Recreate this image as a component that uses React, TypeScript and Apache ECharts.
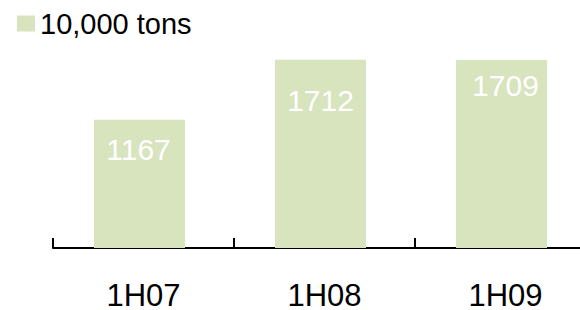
import React, { useEffect, useRef } from "react";
import * as echarts from "echarts";

const categories = ["1H07", "1H08", "1H09"];
const values = [1167, 1712, 1709];
const seriesName = "10,000 tons";
const labelOffsets: [number, number][] = [
  [-1, 15],
  [0, 26],
  [4, 10],
];

export default function App() {
  const ref = useRef<HTMLDivElement>(null);
  useEffect(() => {
    if (!ref.current) return;
    const chart = echarts.init(ref.current, null, { renderer: "svg" });
    const font = "'Liberation Sans', Arial, sans-serif";
    chart.setOption({
      animation: false,
      legend: {
        data: [seriesName],
        left: 17,
        top: 9,
        padding: 0,
        itemWidth: 18,
        itemHeight: 16,
        icon: "rect",
        textStyle: { fontSize: 29, color: "#000", fontFamily: font },
      },
      grid: {
        left: 53,
        width: 543,
        top: 28,
        bottom: 62,
        containLabel: false,
        outerBoundsMode: "none",
      },
      xAxis: {
        type: "category",
        data: categories,
        axisLine: { show: true, lineStyle: { color: "#000", width: 2 } },
        axisTick: {
          show: true,
          interval: 0,
          inside: true,
          length: 10,
          lineStyle: { color: "#000", width: 2 },
        },
        axisLabel: {
          fontSize: 31,
          lineHeight: 26,
          color: "#000",
          fontFamily: font,
          margin: 34,
        },
      },
      yAxis: { type: "value", min: 0, max: 2000, show: false, splitLine: { show: false } },
      series: [
        {
          name: seriesName,
          type: "bar",
          barWidth: 91,
          barGap: "0%",
          itemStyle: { color: "#d7e4bd" },
          label: {
            show: true,
            position: "insideTop",
            distance: 0,
            color: "#fff",
            fontSize: 30,
            fontFamily: font,
          },
          data: values.map((v, i) => ({ value: v, label: { offset: labelOffsets[i] } })),
        },
        {
          name: "spacer",
          type: "bar",
          barWidth: 8,
          silent: true,
          itemStyle: { color: "transparent" },
          data: categories.map(() => "-"),
        },
      ],
    });
    return () => chart.dispose();
  }, []);
  return (
    <div
      ref={ref}
      style={{ position: "absolute", left: 0, top: 0, width: 580, height: 310 }}
    />
  );
}
